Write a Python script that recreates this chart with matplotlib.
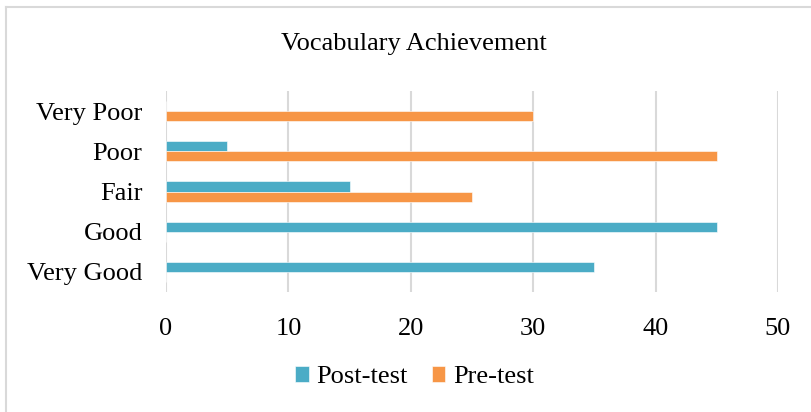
import matplotlib
matplotlib.use("Agg")
import matplotlib.pyplot as plt
import numpy as np
from matplotlib.lines import Line2D

plt.rcParams['font.family'] = ['Liberation Serif', 'DejaVu Serif']

categories = ["Very Good", "Good", "Fair", "Poor", "Very Poor"]
post_test = [35, 45, 15, 5, 0]
pre_test = [0, 0, 25, 45, 30]
xticks = [0, 10, 20, 30, 40, 50]
title = "Vocabulary Achievement"

W, H = 812, 412
fig = plt.figure(figsize=(W / 100, H / 100), dpi=100)
ax = fig.add_axes([166 / W, 1 - 292 / H, (778 - 166) / W, (292 - 91) / H])

y = np.arange(len(categories))
bh = 0.25
c_post = "#4BACC6"
c_pre = "#F79646"
ax.barh(y + bh / 2, post_test, height=bh, color=c_post, edgecolor="#ffffff",
        linewidth=0.4, label="Post-test", zorder=3)
ax.barh(y - bh / 2, pre_test, height=bh, color=c_pre, edgecolor="#ffffff",
        linewidth=0.4, label="Pre-test", zorder=3)

fs = 19
ax.set_xlim(0, 50)
ax.set_ylim(-0.5, len(categories) - 0.5)
ax.set_xticks(xticks)
ax.set_xticklabels([str(t) for t in xticks], fontsize=fs)
ax.set_yticks(y)
ax.set_yticklabels(categories, fontsize=fs)
ax.tick_params(axis='x', length=0, pad=19)
ax.tick_params(axis='y', length=0, pad=17)
ax.grid(axis='x', color="#d9d9d9", linewidth=1.5, zorder=0)
ax.set_axisbelow(True)
for s in ax.spines.values():
    s.set_visible(False)

fig.text(414 / W, 1 - 44 / H, title, ha='center', va='center', fontsize=fs)

fig.legend(loc='center', bbox_to_anchor=(414.5 / W, 1 - 377 / H), ncol=2,
           frameon=False, fontsize=fs, handlelength=0.5, handleheight=0.55,
           handletextpad=0.3, columnspacing=0.9)

# chart-area border (top and left visible)
fig.add_artist(Line2D([6 / W, 1], [1 - 7 / H, 1 - 7 / H], transform=fig.transFigure,
                      color="#d9d9d9", linewidth=1.5))
fig.add_artist(Line2D([6 / W, 6 / W], [0, 1 - 7 / H], transform=fig.transFigure,
                      color="#d9d9d9", linewidth=1.5))

fig.savefig("out.png", dpi=100)
